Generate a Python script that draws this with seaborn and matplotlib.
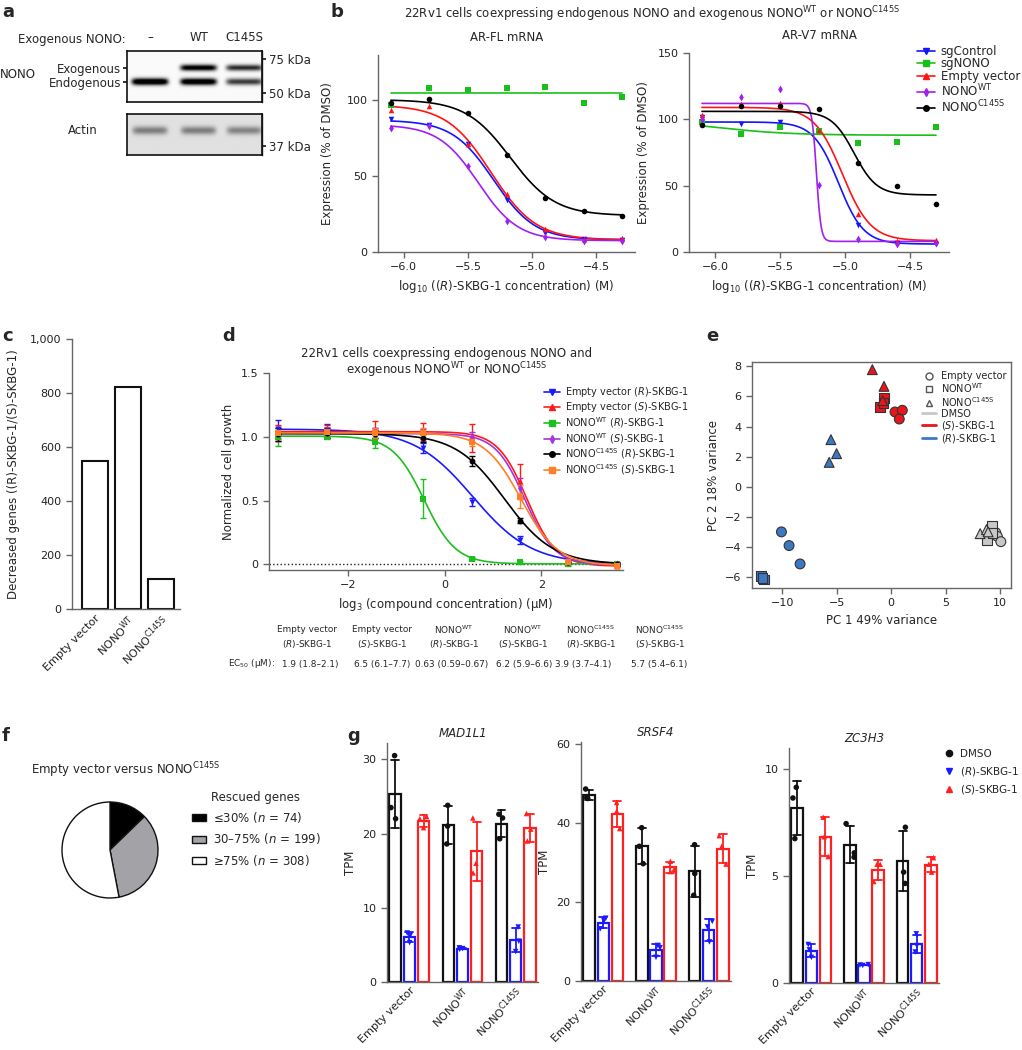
"""
Multi-panel figure: NONO blot, dose responses, PCA, pie and TPM bar charts.
"""

###############
### Imports ###
###############

import numpy as np
import pandas as pd
import matplotlib
matplotlib.use('Agg')
import matplotlib.pyplot as plt
from matplotlib.lines import Line2D
from matplotlib.patches import Patch
import seaborn as sns

############
### Data ###
############

### a - blot band intensities (0 = no band, 1 = saturated) ###
blot_lanes = ['–', 'WT', 'C145S']
nono_endogenous = [1.0, 0.95, 0.6]
nono_exogenous = [0.0, 0.85, 0.65]
actin_band = [0.45, 0.45, 0.42]

### b - AR mRNA dose response ###
b_logconc = [-6.1, -5.8, -5.5, -5.2, -4.9, -4.6, -4.3]
b_lines = ['sgControl', 'sgNONO', 'Empty vector', 'NONO WT', 'NONO C145S']
arfl_sgcontrol = [87.5, 83.8, 71.0, 34.6, 12.7, 8.3, 8.0]
arfl_sgnono = [96.7, 108.0, 107.0, 108.0, 109.0, 98.0, 102.0]
arfl_empty = [93.9, 96.5, 71.5, 38.0, 15.4, 8.8, 9.0]
arfl_wt = [82.0, 83.0, 56.8, 20.4, 10.0, 7.5, 7.5]
arfl_c145s = [98.0, 100.7, 92.0, 64.0, 35.7, 27.0, 23.7]
arv7_sgcontrol = [101.8, 96.5, 97.7, 91.0, 20.4, 7.0, 5.8]
arv7_sgnono = [98.0, 89.0, 94.0, 91.0, 82.0, 82.6, 94.5]
arv7_empty = [103.5, 111.6, 112.0, 92.0, 29.0, 8.6, 9.0]
arv7_wt = [100.0, 116.9, 123.0, 50.4, 9.8, 5.8, 7.0]
arv7_c145s = [95.5, 109.8, 109.8, 108.0, 66.8, 49.4, 36.5]
# fitted curves: top, bottom, log10 EC50, hill slope
arfl_top = [87, 105, 97, 84, 100.5]
arfl_bottom = [8, 105, 8, 7.5, 24]
arfl_logec50 = [-5.30, -5.0, -5.32, -5.42, -5.17]
arfl_hill = [2.7, 1.0, 2.5, 2.8, 2.5]
arv7_top = [98, 100, 109, 112, 106]
arv7_bottom = [6, 88, 8.5, 8, 43]
arv7_logec50 = [-5.05, -6.0, -5.02, -5.22, -4.93]
arv7_hill = [4.5, 1.5, 4.0, 25, 5.0]

### c - decreased genes ###
c_groups = ['Empty vector', 'NONO WT', 'NONO C145S']
c_decreased = [550, 822, 112]

### d - cell growth ###
d_conc_um = [0.0229, 0.0686, 0.206, 0.617, 1.85, 5.56, 16.7, 50.0]
d_empty_r = [1.06, 1.05, 1.03, 0.91, 0.49, 0.19, 0.02, 0.005]
d_empty_s = [1.03, 1.04, 1.04, 1.04, 0.99, 0.65, 0.02, -0.01]
d_wt_r = [1.00, 1.00, 0.96, 0.515, 0.045, 0.015, 0.0, 0.0]
d_wt_s = [1.02, 1.03, 1.03, 1.02, 1.00, 0.60, 0.02, 0.0]
d_c145s_r = [1.02, 1.03, 1.02, 0.99, 0.81, 0.34, 0.02, 0.0]
d_c145s_s = [1.03, 1.04, 1.03, 1.03, 0.96, 0.53, 0.02, -0.01]
d_empty_r_sd = [0.07, 0.05, 0.04, 0.04, 0.03, 0.03, 0.01, 0.01]
d_empty_s_sd = [0.06, 0.05, 0.08, 0.07, 0.11, 0.14, 0.01, 0.01]
d_wt_r_sd = [0.07, 0.02, 0.05, 0.15, 0.01, 0.01, 0.01, 0.01]
d_wt_s_sd = [0.05, 0.04, 0.04, 0.04, 0.04, 0.08, 0.01, 0.01]
d_c145s_r_sd = [0.05, 0.04, 0.03, 0.03, 0.04, 0.02, 0.01, 0.01]
d_c145s_s_sd = [0.05, 0.04, 0.04, 0.04, 0.03, 0.09, 0.01, 0.01]
d_ec50 = [1.9, 6.5, 0.63, 6.2, 3.9, 5.7]
d_ec50_low = [1.8, 6.1, 0.59, 5.9, 3.7, 5.4]
d_ec50_high = [2.1, 7.7, 0.67, 6.6, 4.1, 6.1]
d_top = [1.06, 1.04, 1.005, 1.025, 1.025, 1.03]
d_bottom = [0.0, -0.015, 0.003, -0.005, 0.0, -0.01]
d_hill = [1.5, 3.0, 2.8, 3.0, 1.8, 2.4]

### e - PCA ###
e_pc1 = [-10.06, -9.36, -8.35, -11.9, -11.65, -11.8, -5.52, -5.0, -5.68,
         0.36, 1.03, 0.75, -0.65, -1.02, -0.7, -1.72, -0.65, -0.77,
         9.6, 9.75, 10.07, 9.25, 8.8, 9.3, 8.17, 8.75, 8.9]
e_pc2 = [-3.0, -3.91, -5.13, -5.95, -6.17, -6.05, 3.13, 2.2, 1.62,
         4.97, 5.08, 4.5, 5.9, 5.28, 5.55, 7.78, 6.67, 5.72,
         -3.05, -3.3, -3.65, -2.63, -3.56, -3.1, -3.12, -2.85, -3.0]
e_treatment = ['(R)-SKBG-1'] * 9 + ['(S)-SKBG-1'] * 9 + ['DMSO'] * 9
e_construct = (['Empty vector'] * 3 + ['NONO WT'] * 3 + ['NONO C145S'] * 3) * 3

### f - rescued genes ###
f_classes = ['≤30%', '30–75%', '≥75%']
f_counts = [74, 199, 308]

### g - TPM (3 replicates per construct: Empty vector, NONO WT, NONO C145S) ###
g_groups = ['Empty vector', 'NONO WT', 'NONO C145S']
g_treatments = ['DMSO', '(R)-SKBG-1', '(S)-SKBG-1']
mad1l1_dmso = [30.5, 23.5, 22.0, 23.8, 21.0, 18.6, 22.6, 22.1, 19.3]
mad1l1_r = [6.6, 6.3, 5.3, 4.6, 4.5, 4.4, 7.4, 5.5, 4.1]
mad1l1_s = [22.3, 22.0, 20.8, 22.1, 16.0, 14.7, 22.7, 20.6, 19.0]
srsf4_dmso = [48.6, 46.4, 46.2, 38.8, 34.1, 29.7, 34.5, 27.2, 21.7]
srsf4_r = [15.9, 15.2, 13.2, 9.0, 8.4, 6.0, 15.1, 13.7, 9.9]
srsf4_s = [45.2, 43.0, 38.6, 30.3, 28.2, 27.7, 36.8, 34.1, 29.6]
zc3h3_dmso = [9.16, 8.66, 6.76, 7.46, 6.09, 5.89, 7.29, 5.19, 4.66]
zc3h3_r = [1.8, 1.55, 1.2, 0.82, 0.84, 0.86, 2.3, 1.75, 1.45]
zc3h3_s = [7.76, 6.85, 5.92, 5.56, 5.56, 4.75, 5.87, 5.56, 5.19]

##############
### Layout ###
##############

W, H = 1022, 1050
WT_TXT = r'NONO$^{\mathrm{WT}}$'
MUT_TXT = r'NONO$^{\mathrm{C145S}}$'
R_TXT = r'($\mathit{R}$)-SKBG-1'
S_TXT = r'($\mathit{S}$)-SKBG-1'
SPINE = '#666666'


def box(x0, y0, x1, y1):
    """Pixel box (top-left origin) to figure fraction rect."""
    return [x0 / W, 1 - y1 / H, (x1 - x0) / W, (y1 - y0) / H]


def fx(x):
    return x / W


def fy(y):
    return 1 - y / H


def logistic(x, top, bottom, center, hill, base):
    return bottom + (top - bottom) / (1 + base ** ((x - center) * hill))


def style_axes(ax):
    sns.despine(ax=ax)
    for side in ['left', 'bottom']:
        ax.spines[side].set_color(SPINE)
    ax.tick_params(colors=SPINE, labelcolor='#222222', length=4, width=1)


sns.set_theme(style='ticks')
plt.rcParams['font.family'] = ['DejaVu Sans']
plt.rcParams['font.size'] = 8
plt.rcParams['mathtext.fontset'] = 'dejavusans'
plt.rcParams['axes.labelsize'] = 8.5
plt.rcParams['xtick.labelsize'] = 8
plt.rcParams['ytick.labelsize'] = 8
plt.rcParams['axes.linewidth'] = 1.0

np.random.seed(2)
fig = plt.figure(figsize=(10.22, 10.5), dpi=100)

for letter, (px, py) in zip('abcdefg', [(2, 12), (330, 12), (2, 336), (222, 336),
                                        (706, 336), (2, 736), (347, 736)]):
    fig.text(fx(px), fy(py), letter, fontsize=13, fontweight='bold', va='center')

###############
### Panel a ###
###############

lane_x = [0.17, 0.53, 0.87]
grid_x, grid_y = np.meshgrid(np.linspace(0, 1, 400), np.linspace(0, 1, 160))

ax_nono = fig.add_axes(box(127, 51, 262, 102))
dark = np.zeros_like(grid_x)
for lane, endo, exo in zip(lane_x, nono_endogenous, nono_exogenous):
    profile = np.exp(-((grid_x - lane) / 0.135) ** 8)
    dark += endo * profile * np.exp(-((grid_y - 0.61) / 0.065) ** 2)
    dark += exo * profile * np.exp(-((grid_y - 0.34) / 0.06) ** 2)
ax_nono.imshow(0.98 * (1 - np.clip(dark * 1.3, 0, 1)), cmap='gray', vmin=0, vmax=1,
               extent=(0, 1, 1, 0), aspect='auto', interpolation='bilinear')
ax_nono.set_xticks(lane_x, blot_lanes)
ax_nono.xaxis.tick_top()
ax_nono.tick_params(axis='x', length=0, pad=5, labelsize=8.5)
ax_nono.set_yticks([0.34, 0.61], ['Exogenous', 'Endogenous'])
ax_nono.tick_params(axis='y', length=3, pad=1, labelsize=8.5, color='k')
sec = ax_nono.secondary_yaxis('right')
sec.set_yticks([0.16, 0.82], ['75 kDa', '50 kDa'])
sec.tick_params(length=3, pad=2, labelsize=8.5, color='k')

ax_actin = fig.add_axes(box(127, 114, 262, 155))
dark = np.zeros_like(grid_x)
for lane, level in zip(lane_x, actin_band):
    dark += level * np.exp(-((grid_x - lane) / 0.13) ** 8) * np.exp(-((grid_y - 0.4) / 0.1) ** 2)
ax_actin.imshow(0.88 * (1 - dark), cmap='gray', vmin=0, vmax=1,
                extent=(0, 1, 1, 0), aspect='auto', interpolation='bilinear')
ax_actin.set_xticks([])
ax_actin.set_yticks([])
sec = ax_actin.secondary_yaxis('right')
sec.set_yticks([0.78], ['37 kDa'])
sec.tick_params(length=3, pad=2, labelsize=8.5, color='k')
for axb in [ax_nono, ax_actin]:
    for spine in axb.spines.values():
        spine.set_color('#111111')
        spine.set_linewidth(1.2)

fig.text(fx(18), fy(40), 'Exogenous NONO:', fontsize=8.5, va='center')
fig.text(fx(0), fy(74), 'NONO', fontsize=8.5, va='center')
fig.text(fx(83), fy(130), 'Actin', fontsize=8.5, va='center', ha='center')

###############
### Panel b ###
###############

b_colors = ['#1414ff', '#19c019', '#ff1414', '#a020f0', '#000000']
b_markers = ['v', 's', '^', 'd', 'o']
b_labels = ['sgControl', 'sgNONO', 'Empty vector', WT_TXT, MUT_TXT]
curve_b = np.linspace(b_logconc[0], b_logconc[-1], 400)


def draw_dose_panel(ax, values, tops, bottoms, centers, hills, title, ymax, yticks):
    for i in range(len(b_lines)):
        curve = logistic(curve_b, tops[i], bottoms[i], centers[i], hills[i], 10)
        sns.lineplot(x=curve_b, y=curve, color=b_colors[i], linewidth=1.2, ax=ax)
        sns.scatterplot(x=b_logconc, y=values[i], color=b_colors[i], marker=b_markers[i],
                        s=16, linewidth=0, ax=ax, zorder=3)
    ax.set_xlim(-6.2, -4.2)
    ax.set_ylim(0, ymax)
    ax.set_xticks([-6.0, -5.5, -5.0, -4.5], ['−6.0', '−5.5', '−5.0', '−4.5'])
    ax.set_yticks(yticks)
    ax.set_title(title, fontsize=8.5, pad=10)
    ax.set_xlabel(r'log$_{10}$ (($\mathit{R}$)-SKBG-1 concentration) (M)')
    ax.set_ylabel('Expression (% of DMSO)')
    style_axes(ax)


ax_fl = fig.add_axes(box(378, 55, 635, 252))
draw_dose_panel(ax_fl, [arfl_sgcontrol, arfl_sgnono, arfl_empty, arfl_wt, arfl_c145s],
                arfl_top, arfl_bottom, arfl_logec50, arfl_hill, 'AR-FL mRNA', 130, [0, 50, 100])
ax_fl.yaxis.set_label_coords(-0.17, 0.5)
ax_v7 = fig.add_axes(box(689, 53, 949, 252))
draw_dose_panel(ax_v7, [arv7_sgcontrol, arv7_sgnono, arv7_empty, arv7_wt, arv7_c145s],
                arv7_top, arv7_bottom, arv7_logec50, arv7_hill, 'AR-V7 mRNA', 150, [0, 50, 100, 150])
ax_v7.yaxis.set_label_coords(-0.15, 0.5)
ax_v7.set_title('AR-V7 mRNA', fontsize=8.5, pad=10)

fig.text(fx(652), fy(14), '22Rv1 cells coexpressing endogenous NONO and exogenous '
         + WT_TXT + ' or ' + MUT_TXT, ha='center', va='center', fontsize=8.5)
b_handles = [Line2D([], [], color=c, marker=m, ms=4, lw=1.2) for c, m in zip(b_colors, b_markers)]
fig.legend(b_handles, b_labels, loc='upper left', bbox_to_anchor=(fx(917), fy(45)),
           frameon=False, fontsize=8.5, handlelength=1.5, handletextpad=0.5,
           labelspacing=-0.05, borderpad=0, borderaxespad=0)

###############
### Panel c ###
###############

ax_c = fig.add_axes(box(72, 339, 180, 609))
sns.barplot(x=c_groups, y=c_decreased, fill=False, color='#111111', linewidth=1.5,
            width=0.78, ax=ax_c)
ax_c.set_xlim(-0.68, 2.57)
ax_c.set_ylim(0, 1000)
ax_c.set_yticks(range(0, 1001, 200), ['0', '200', '400', '600', '800', '1,000'])
ax_c.set_xticks([0, 1, 2], ['Empty vector', WT_TXT, MUT_TXT], rotation=45, ha='right',
                rotation_mode='anchor')
ax_c.set_ylabel('Decreased genes ((R)-SKBG-1/(S)-SKBG-1)')
ax_c.yaxis.set_label_coords(-0.48, 0.5)
style_axes(ax_c)
ax_c.tick_params(axis='x', length=0, pad=3)

###############
### Panel d ###
###############

d_series = [d_empty_r, d_empty_s, d_wt_r, d_wt_s, d_c145s_r, d_c145s_s]
d_sds = [d_empty_r_sd, d_empty_s_sd, d_wt_r_sd, d_wt_s_sd, d_c145s_r_sd, d_c145s_s_sd]
d_colors = ['#1a1aff', '#ff1a1a', '#1fbf1f', '#a633e0', '#000000', '#ff7f27']
d_markers = ['v', '^', 's', 'd', 'o', 's']
d_labels = ['Empty vector ' + R_TXT, 'Empty vector ' + S_TXT, WT_TXT + ' ' + R_TXT,
            WT_TXT + ' ' + S_TXT, MUT_TXT + ' ' + R_TXT, MUT_TXT + ' ' + S_TXT]
d_logx = np.log(d_conc_um) / np.log(3)
curve_d = np.linspace(d_logx[0], d_logx[-1], 400)

ax_d = fig.add_axes(box(269, 373, 623, 570))
ax_d.axhline(0, color='#222222', linestyle=':', linewidth=1)
for i in range(len(d_series)):
    center = np.log(d_ec50[i]) / np.log(3)
    curve = logistic(curve_d, d_top[i], d_bottom[i], center, d_hill[i], 3)
    sns.lineplot(x=curve_d, y=curve, color=d_colors[i], linewidth=1.2, ax=ax_d)
    ax_d.errorbar(d_logx, d_series[i], yerr=d_sds[i], fmt='none', ecolor=d_colors[i],
                  elinewidth=1, capsize=2)
    sns.scatterplot(x=d_logx, y=d_series[i], color=d_colors[i], marker=d_markers[i],
                    s=18, linewidth=0, ax=ax_d, zorder=3)
ax_d.set_xlim(-3.63, 3.69)
ax_d.set_ylim(-0.045, 1.5)
ax_d.set_xticks([-2, 0, 2], ['−2', '0', '2'])
ax_d.set_yticks([0, 0.5, 1.0, 1.5], ['0', '0.5', '1.0', '1.5'])
ax_d.set_xlabel(r'log$_{3}$ (compound concentration) (µM)')
ax_d.set_ylabel('Normalized cell growth')
style_axes(ax_d)
fig.text(fx(447), fy(354), '22Rv1 cells coexpressing endogenous NONO and',
         ha='center', va='center', fontsize=8.5)
fig.text(fx(447), fy(370), 'exogenous ' + WT_TXT + ' or ' + MUT_TXT,
         ha='center', va='center', fontsize=8.5)
d_handles = [Line2D([], [], color=c, marker=m, ms=4, lw=1.2) for c, m in zip(d_colors, d_markers)]
fig.legend(d_handles, d_labels, loc='upper left', bbox_to_anchor=(fx(544), fy(385)),
           frameon=False, fontsize=7, handlelength=1.6, handletextpad=0.6,
           labelspacing=0.1, borderpad=0, borderaxespad=0)

# EC50 table
head_x = [307, 382, 454, 523, 591, 660]
value_x = [310, 382, 452, 524, 583, 659]
head_top = ['Empty vector', 'Empty vector', WT_TXT, WT_TXT, MUT_TXT, MUT_TXT]
head_bottom = [R_TXT, S_TXT, R_TXT, S_TXT, R_TXT, S_TXT]
for hx, vx, top, bottom, ec, lo, hi in zip(head_x, value_x, head_top, head_bottom,
                                           d_ec50, d_ec50_low, d_ec50_high):
    fig.text(fx(hx), fy(630), top, ha='center', va='center', fontsize=6.4)
    fig.text(fx(hx), fy(644), bottom, ha='center', va='center', fontsize=6.4)
    fig.text(fx(vx), fy(664), f'{ec:g} ({lo:g}–{hi:g})', ha='center', va='center',
             fontsize=6.4)
fig.text(fx(275), fy(664), r'EC$_{50}$ (µM):', ha='right', va='center', fontsize=6.4)

###############
### Panel e ###
###############

e_df = pd.DataFrame({'PC1': e_pc1, 'PC2': e_pc2, 'treatment': e_treatment,
                     'construct': e_construct})
e_palette = {'DMSO': '#c8c8c8', '(S)-SKBG-1': '#e8161c', '(R)-SKBG-1': '#3c78c3'}
e_marks = {'Empty vector': 'o', 'NONO WT': 's', 'NONO C145S': '^'}
ax_e = fig.add_axes(box(752, 362, 1011, 588))
sns.scatterplot(data=e_df, x='PC1', y='PC2', hue='treatment', style='construct',
                palette=e_palette, markers=e_marks, s=50, edgecolor='#333333',
                linewidth=0.8, legend=False, ax=ax_e)
ax_e.set_xlim(-12.76, 11.0)
ax_e.set_ylim(-6.73, 8.29)
ax_e.set_xticks([-10, -5, 0, 5, 10], ['−10', '−5', '0', '5', '10'])
ax_e.set_yticks(range(-6, 9, 2), ['−6', '−4', '−2', '0', '2', '4', '6', '8'])
ax_e.set_xlabel('PC 1 49% variance')
ax_e.set_ylabel('PC 2 18% variance')
for spine in ax_e.spines.values():
    spine.set_color(SPINE)
ax_e.tick_params(colors=SPINE, labelcolor='#222222', length=4, width=1)
e_handles = [Line2D([], [], ls='none', marker=m, mfc='none', mec='#555555', ms=5)
             for m in e_marks.values()]
e_handles += [Line2D([], [], color=e_palette[t], lw=2) for t in ['DMSO', '(S)-SKBG-1', '(R)-SKBG-1']]
e_labels = ['Empty vector', WT_TXT, MUT_TXT, 'DMSO', S_TXT, R_TXT]
fig.legend(e_handles, e_labels, loc='upper left', bbox_to_anchor=(fx(922), fy(371)),
           frameon=False, fontsize=7, handlelength=1.4, handletextpad=0.6,
           labelspacing=0.0, borderpad=0, borderaxespad=0)

###############
### Panel f ###
###############

ax_f = fig.add_axes(box(50, 790, 170, 910))
ax_f.pie(f_counts, colors=['#000000', '#a3a3a7', '#ffffff'], startangle=90,
         counterclock=False, wedgeprops={'edgecolor': '#111111', 'linewidth': 1})
ax_f.set_aspect('equal')
fig.text(fx(126), fy(770), 'Empty vector versus ' + MUT_TXT, ha='center', va='center',
         fontsize=8.5)
fig.text(fx(211), fy(797), 'Rescued genes', ha='left', va='center', fontsize=8.5)
f_handles = [Patch(facecolor=c, edgecolor='#111111', linewidth=1)
             for c in ['#000000', '#a3a3a7', '#ffffff']]
f_labels = [f'{k} ($n$ = {n})' for k, n in zip(f_classes, f_counts)]
fig.legend(f_handles, f_labels, loc='upper left',
           bbox_to_anchor=(fx(192), fy(810)), frameon=False, fontsize=8.5,
           handlelength=1.2, handleheight=0.5, handletextpad=0.6, labelspacing=0.55,
           borderpad=0, borderaxespad=0)

###############
### Panel g ###
###############

g_palette = {'DMSO': '#111111', '(R)-SKBG-1': '#1a1aff', '(S)-SKBG-1': '#ff2020'}
g_markers = {'DMSO': 'o', '(R)-SKBG-1': 'v', '(S)-SKBG-1': '^'}


def draw_gene(rect, gene, dmso, r_vals, s_vals, ymax, yticks):
    ax = fig.add_axes(rect)
    rows = []
    for treat, vals in zip(g_treatments, [dmso, r_vals, s_vals]):
        for k, v in enumerate(vals):
            rows.append({'group': g_groups[k // 3], 'treatment': treat, 'tpm': v})
    df = pd.DataFrame(rows)
    for treat in g_treatments:
        sub = df[df['treatment'] == treat]
        sns.barplot(data=sub, x='group', y='tpm', hue='treatment', order=g_groups,
                    hue_order=g_treatments, palette=g_palette, fill=False, errorbar='sd',
                    dodge=True, capsize=0.45,
                    err_kws={'color': g_palette[treat], 'linewidth': 1.3},
                    linewidth=1.6, width=0.8, gap=0.2, legend=False, ax=ax)
        sns.stripplot(data=sub, x='group', y='tpm', hue='treatment', order=g_groups,
                      hue_order=g_treatments, palette=g_palette, dodge=True, jitter=0.25,
                      marker=g_markers[treat], size=4, linewidth=0, legend=False, ax=ax)
    ax.set_xlim(-0.42, 2.42)
    ax.set_ylim(0, ymax)
    ax.set_yticks(yticks)
    ax.set_xticks([0, 1, 2], ['Empty vector', WT_TXT, MUT_TXT], rotation=45, ha='right',
                  rotation_mode='anchor', fontsize=8)
    ax.set_xlabel('')
    ax.set_ylabel('TPM')
    ax.set_title(gene, fontstyle='italic', fontsize=8.5, pad=4)
    style_axes(ax)
    ax.tick_params(axis='x', length=0, pad=2)
    return ax


draw_gene(box(387, 743, 538, 982), 'MAD1L1', mad1l1_dmso, mad1l1_r, mad1l1_s, 32.2, [0, 10, 20, 30])
draw_gene(box(581, 742, 731, 981), 'SRSF4', srsf4_dmso, srsf4_r, srsf4_s, 60.5, [0, 20, 40, 60])
draw_gene(box(789, 748, 939, 983), 'ZC3H3', zc3h3_dmso, zc3h3_r, zc3h3_s, 11.0, [0, 5, 10])
g_handles = [Line2D([], [], ls='none', marker=g_markers[t], color=g_palette[t], ms=4.5)
             for t in g_treatments]
fig.legend(g_handles, ['DMSO', R_TXT, S_TXT], loc='upper left',
           bbox_to_anchor=(fx(945), fy(749)), frameon=False, fontsize=7.5,
           handlelength=0.8, handletextpad=0.6, labelspacing=0.55, borderpad=0,
           borderaxespad=0)

fig.savefig('out.png', dpi=100)
